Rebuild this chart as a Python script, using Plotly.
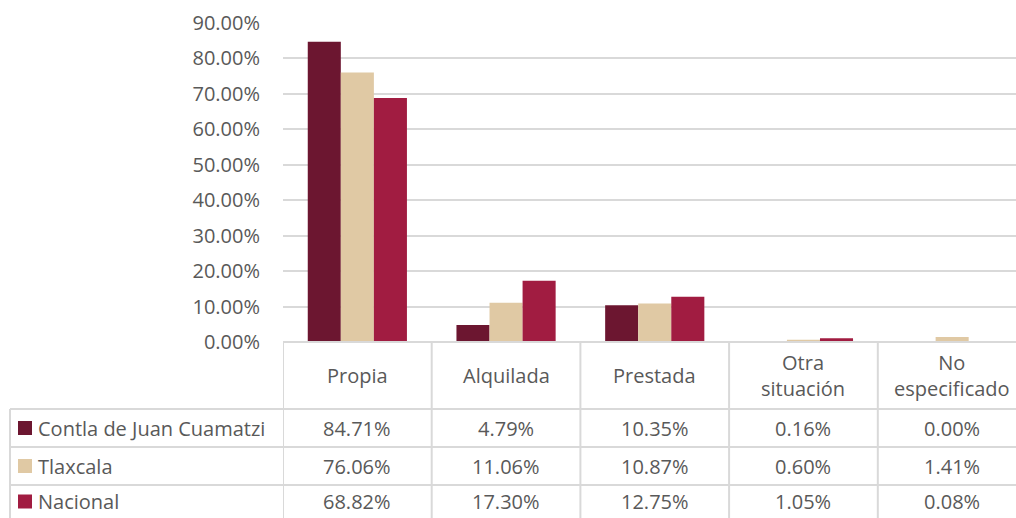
import plotly.graph_objects as go

# Housing tenure shares (%)
categories = ["Propia", "Alquilada", "Prestada", "Otra situación", "No especificado"]
header_labels = ["Propia", "Alquilada", "Prestada", "Otra<br>situación", "No<br>especificado"]
series_names = ["Contla de Juan Cuamatzi", "Tlaxcala", "Nacional"]
contla = [84.71, 4.79, 10.35, 0.16, 0.00]
tlaxcala = [76.06, 11.06, 10.87, 0.60, 1.41]
nacional = [68.82, 17.30, 12.75, 1.05, 0.08]
series_values = [contla, tlaxcala, nacional]
colors = ["#6C1630", "#E0C9A4", "#A11C41"]
y_ticks = [0, 10, 20, 30, 40, 50, 60, 70, 80, 90]

W, H = 1016, 518
ML, MR, MT, MB = 283, 0, 23, 176
plot_h = H - MT - MB
FONT = "Open Sans"
FS = 20
TXT = "#595959"
GRID = "#D9D9D9"


def py(p):
    """Convert a pixel row to paper y coordinate."""
    return (H - MB - p) / plot_h


def px(p):
    """Convert a pixel column to paper x coordinate."""
    return (p - ML) / (W - ML - MR)


fig = go.Figure()
for name, vals, col in zip(series_names, series_values, colors):
    fig.add_trace(go.Bar(
        x=list(range(len(categories))),
        y=[v / 100 for v in vals],
        name=name,
        marker=dict(color=col, line=dict(width=0)),
        showlegend=False,
    ))

shapes = []
annotations = []
ncat = len(categories)
row_tops = [409, 447, 485, 523]

# vertical separators of the data table
for k in range(ncat + 1):
    shapes.append(dict(type="line", xref="x", yref="paper",
                       x0=k - 0.5, x1=k - 0.5, y0=py(342), y1=py(530),
                       line=dict(color=GRID, width=2)))
# left border of the series-name column
shapes.append(dict(type="line", xref="paper", yref="paper",
                   x0=px(10), x1=px(10), y0=py(409), y1=py(530),
                   line=dict(color=GRID, width=2)))
# horizontal rules
shapes.append(dict(type="line", xref="paper", yref="paper",
                   x0=0, x1=1, y0=py(342), y1=py(342),
                   line=dict(color=GRID, width=2)))
for t in row_tops[:-1]:
    shapes.append(dict(type="line", xref="paper", yref="paper",
                       x0=px(10), x1=1, y0=py(t), y1=py(t),
                       line=dict(color=GRID, width=2)))

# header cells
for k, lab in enumerate(header_labels):
    annotations.append(dict(x=k, xref="x", y=py(375.5), yref="paper",
                            text=lab, showarrow=False,
                            font=dict(family=FONT, size=FS, color=TXT),
                            xanchor="center", yanchor="middle"))

# series rows
for r, (name, vals, col) in enumerate(zip(series_names, series_values, colors)):
    yc = (row_tops[r] + row_tops[r + 1] - 5) / 2 if r == 2 else (row_tops[r] + row_tops[r + 1]) / 2
    shapes.append(dict(type="rect", xref="paper", yref="paper",
                       x0=px(18), x1=px(32), y0=py(yc - 7), y1=py(yc + 7),
                       fillcolor=col, line=dict(width=0)))
    annotations.append(dict(x=px(36), xref="paper", y=py(yc), yref="paper",
                            text=name, showarrow=False,
                            font=dict(family=FONT, size=FS, color=TXT),
                            xanchor="left", yanchor="middle"))
    for k, v in enumerate(vals):
        annotations.append(dict(x=k, xref="x", y=py(yc), yref="paper",
                                text=f"{v:.2f}%", showarrow=False,
                                font=dict(family=FONT, size=FS, color=TXT),
                                xanchor="center", yanchor="middle"))

fig.update_layout(
    width=W, height=H,
    margin=dict(l=ML, r=MR, t=MT, b=MB),
    paper_bgcolor="white", plot_bgcolor="white",
    barmode="group", bargap=0.333, bargroupgap=0,
    shapes=shapes, annotations=annotations,
    xaxis=dict(range=[-0.5, -0.5 + (W - ML - MR) / 148.7],
               showticklabels=False, showgrid=False, zeroline=False,
               showline=False, ticks=""),
    yaxis=dict(range=[0, 0.9], tickvals=[t / 100 for t in y_ticks],
               tickformat=".2%", showgrid=True, gridcolor=GRID, gridwidth=2,
               zeroline=False, showline=False, ticks="", ticklen=0,
               ticklabelstandoff=22,
               tickfont=dict(family=FONT, size=FS, color=TXT)),
)

fig.write_html("out.html")
